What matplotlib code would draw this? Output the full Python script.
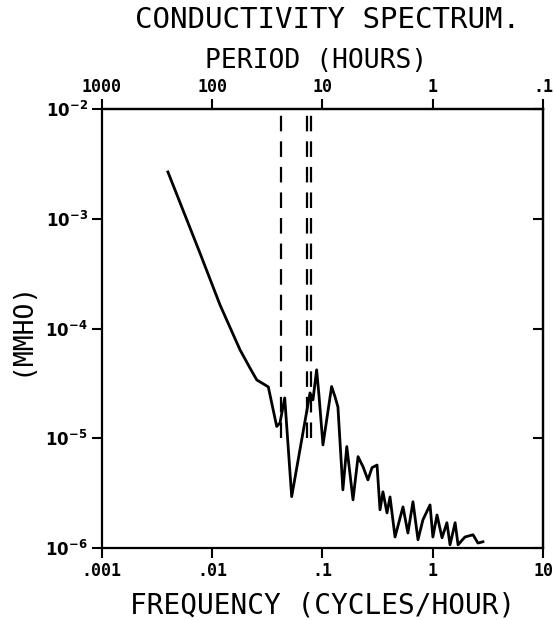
import matplotlib
matplotlib.use("Agg")
import matplotlib.pyplot as plt
from matplotlib.ticker import FixedLocator, NullLocator

# spectrum (frequency in cycles/hour, conductivity in mmho)
freq = [0.00398, 0.00776, 0.0118, 0.0179, 0.0220, 0.0254, 0.0323, 0.0385,
        0.0412, 0.0455, 0.0526, 0.0665, 0.0771, 0.0820, 0.0885, 0.0929,
        0.101, 0.121, 0.130, 0.138, 0.153, 0.166, 0.189, 0.210, 0.233,
        0.258, 0.281, 0.312, 0.332, 0.353, 0.384, 0.409, 0.454, 0.536,
        0.594, 0.660, 0.733, 0.813, 0.942, 1.00, 1.09, 1.21, 1.34, 1.43,
        1.59, 1.69, 1.95, 2.31, 2.56, 2.84]
cond = [2.67e-3, 4.88e-4, 1.64e-4, 6.4e-5, 4.38e-5, 3.40e-5, 2.94e-5, 1.28e-5,
        1.38e-5, 2.33e-5, 2.94e-6, 1.12e-5, 2.59e-5, 2.24e-5, 4.2e-5, 2.48e-5,
        8.7e-6, 2.96e-5, 2.38e-5, 1.93e-5, 3.39e-6, 8.4e-6, 2.75e-6, 6.8e-6, 5.5e-6,
        4.18e-6, 5.4e-6, 5.7e-6, 2.23e-6, 3.25e-6, 2.09e-6, 2.92e-6, 1.26e-6, 2.37e-6,
        1.37e-6, 2.64e-6, 1.19e-6, 1.81e-6, 2.47e-6, 1.26e-6, 2.0e-6, 1.24e-6, 1.70e-6, 1.07e-6,
        1.70e-6, 1.07e-6, 1.26e-6, 1.32e-6, 1.11e-6, 1.14e-6]

# dashed marker lines (tidal frequencies)
tide_freq = [0.0417, 0.0725, 0.0795]
dash_top = 1e-2
dash_bottom = 1e-5

x_ticks = [0.001, 0.01, 0.1, 1, 10]
x_labels = [".001", ".01", ".1", "1", "10"]
period_ticks = [1000, 100, 10, 1, 0.1]
period_labels = ["1000", "100", "10", "1", ".1"]
y_ticks = [1e-6, 1e-5, 1e-4, 1e-3, 1e-2]
y_labels = [r"$\mathbf{10^{-6}}$", r"$\mathbf{10^{-5}}$", r"$\mathbf{10^{-4}}$",
            r"$\mathbf{10^{-3}}$", r"$\mathbf{10^{-2}}$"]

plt.rcParams["font.family"] = ["DejaVu Sans Mono", "DejaVu Sans"]

fig = plt.figure(figsize=(5.55, 6.2), dpi=100)
ax = fig.add_axes([0.1832, 0.1161, 0.7957, 0.7081])

ax.plot(freq, cond, color="black", lw=2.0)
for f in tide_freq:
    ax.plot([f, f], [dash_bottom, dash_top], color="black", lw=1.6,
            dashes=(7, 4.5))

ax.set_xscale("log")
ax.set_yscale("log")
ax.set_xlim(0.001, 10)
ax.set_ylim(1e-6, 1e-2)

ax.xaxis.set_major_locator(FixedLocator(x_ticks))
ax.xaxis.set_minor_locator(NullLocator())
ax.set_xticklabels(x_labels, fontsize=12, fontweight="bold")
ax.yaxis.set_major_locator(FixedLocator(y_ticks))
ax.yaxis.set_minor_locator(NullLocator())
ax.set_yticklabels(y_labels, fontsize=12)
ax.tick_params(axis="both", direction="out", length=7, width=1.5, pad=3)

for s in ax.spines.values():
    s.set_linewidth(1.6)

# period axis on top
top = ax.secondary_xaxis("top", functions=(lambda f: 1 / f, lambda p: 1 / p))
top.xaxis.set_major_locator(FixedLocator(period_ticks))
top.xaxis.set_minor_locator(NullLocator())
top.set_xticklabels(period_labels, fontsize=12, fontweight="bold")
top.tick_params(direction="out", length=7, width=1.5, pad=2)
top.spines["top"].set_linewidth(1.6)

# inward ticks on right side
right = ax.secondary_yaxis("right")
right.yaxis.set_major_locator(FixedLocator(y_ticks))
right.yaxis.set_minor_locator(NullLocator())
right.tick_params(direction="in", length=7, width=1.5, labelright=False)
right.spines["right"].set_linewidth(1.6)

ax.set_xlabel("FREQUENCY (CYCLES/HOUR)", fontsize=20, labelpad=8)
ax.set_ylabel("(MMHO)", fontsize=19, labelpad=8)
fig.text(0.57, 0.902, "PERIOD (HOURS)", ha="center", va="center", fontsize=19)
fig.text(0.59, 0.967, "CONDUCTIVITY SPECTRUM.", ha="center", va="center",
         fontsize=21)

fig.savefig("out.png", dpi=100)
